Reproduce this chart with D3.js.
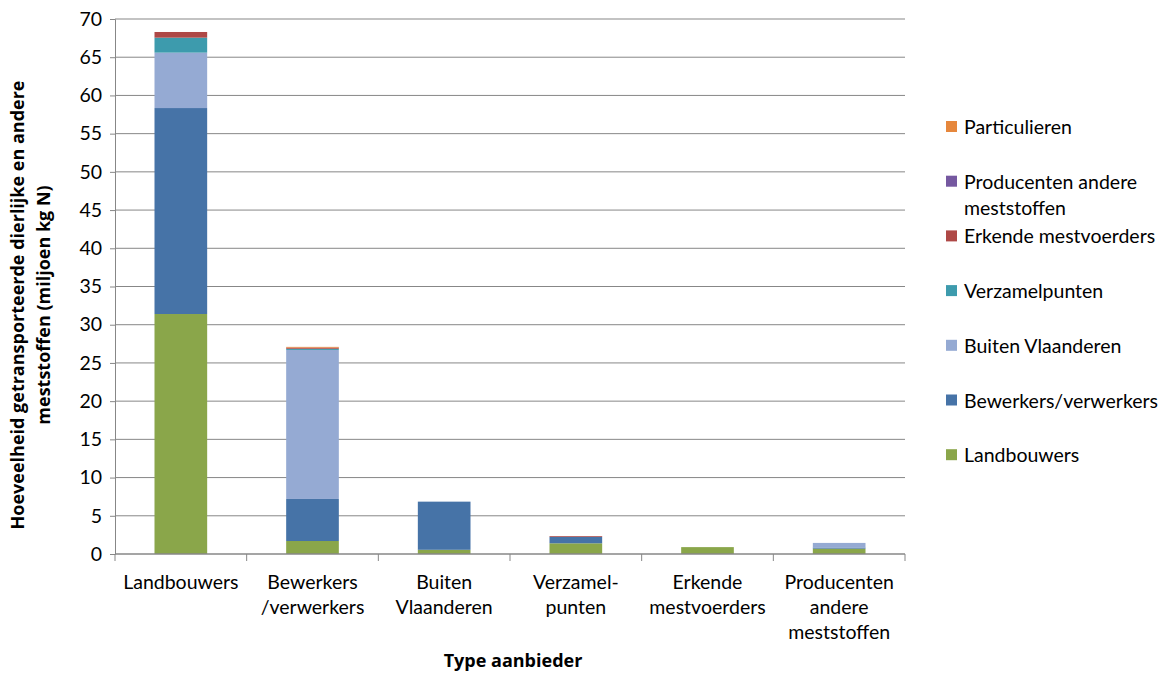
<!DOCTYPE html>
<html><head><meta charset="utf-8">
<script src="https://cdn.jsdelivr.net/npm/d3@7"></script>
<style>body{margin:0;background:#fff}text{font-family:Lato,"Open Sans",sans-serif;fill:#000}</style>
</head><body><svg id="c" width="1168" height="673"></svg>
<script>
const categories = [["Landbouwers"],["Bewerkers","/verwerkers"],["Buiten","Vlaanderen"],["Verzamel-","punten"],["Erkende","mestvoerders"],["Producenten","andere","meststoffen"]];
const seriesNames = ["Landbouwers","Bewerkers/verwerkers","Buiten Vlaanderen","Verzamelpunten","Erkende mestvoerders","Producenten andere meststoffen","Particulieren"];
const seriesColors = ["#8aa64a","#4673a7","#95aad3","#3d9bad","#ae4846","#7558a0","#e6873c"];
const landbouwers = [31.4, 1.7, 0.55, 1.4, 0.9, 0.7];
const bewerkers   = [26.95, 5.5, 6.3, 0.85, 0, 0.15];
const buiten      = [7.25, 19.5, 0, 0, 0, 0.6];
const verzamel    = [1.96, 0.15, 0, 0, 0, 0];
const erkende     = [0.74, 0.15, 0, 0.1, 0, 0];
const producenten = [0, 0, 0, 0, 0, 0];
const particulieren = [0, 0.1, 0, 0, 0, 0];
const yTicks = [0,5,10,15,20,25,30,35,40,45,50,55,60,65,70];
const legendLines = [["Particulieren"],["Producenten andere","meststoffen"],["Erkende mestvoerders"],["Verzamelpunten"],["Buiten Vlaanderen"],["Bewerkers/verwerkers"],["Landbouwers"]];

const seriesVals = [landbouwers,bewerkers,buiten,verzamel,erkende,producenten,particulieren];
const svg = d3.select("#c");
const L=115,R=905,T=19,B=554;
const FS=19.5;
const x = d3.scaleBand().domain(d3.range(categories.length)).range([L,R]).paddingInner(0.6).paddingOuter(0.3);
const xOuter = d3.scaleBand().domain(d3.range(categories.length)).range([L,R]);
const y = d3.scaleLinear().domain([0,70]).range([B,T]);
const grid="#878787";
svg.append("g").selectAll("line").data(yTicks.filter(d=>d>0)).join("line")
 .attr("x1",L).attr("x2",R).attr("y1",d=>y(d)).attr("y2",d=>y(d)).attr("stroke",grid).attr("stroke-width",1);
const ya = svg.append("g").attr("transform",`translate(${L},0)`).call(d3.axisLeft(y).tickValues(yTicks).tickSize(5).tickPadding(8));
ya.select(".domain").attr("stroke",grid);
ya.selectAll(".tick line").attr("stroke",grid);
ya.selectAll("text").attr("font-size",FS).style("font-family","Lato,sans-serif");
const rows = categories.map((c,i)=>{const o={};seriesNames.forEach((s,j)=>o[s]=seriesVals[j][i]);return o;});
const stack = d3.stack().keys(seriesNames)(rows);
svg.append("g").selectAll("g").data(stack).join("g").attr("fill",(d,i)=>seriesColors[i])
 .selectAll("rect").data(d=>d).join("rect")
 .attr("x",(d,i)=>x(i)).attr("width",x.bandwidth())
 .attr("y",d=>y(d[1])).attr("height",d=>Math.max(0,y(d[0])-y(d[1])));
svg.append("line").attr("x1",L).attr("x2",R).attr("y1",B).attr("y2",B).attr("stroke",grid).attr("stroke-width",1.5);
svg.append("g").selectAll("line").data(d3.range(categories.length+1)).join("line")
 .attr("x1",i=>L+i*xOuter.step()).attr("x2",i=>L+i*xOuter.step()).attr("y1",B).attr("y2",B+7).attr("stroke",grid);
const xl = svg.append("g").selectAll("text").data(categories).join("text")
 .attr("text-anchor","middle").attr("font-size",FS)
 .attr("x",(d,i)=>x(i)+x.bandwidth()/2).attr("y",589);
xl.selectAll("tspan").data(d=>d).join("tspan").attr("x",function(){return this.parentNode.getAttribute("x");}).attr("dy",(d,i)=>i?25:0).text(d=>d);
svg.append("text").attr("x",513).attr("y",667).attr("text-anchor","middle").attr("font-size",18).attr("font-weight","bold").style("font-family","'Open Sans',sans-serif").text("Type aanbieder");
const yt = svg.append("text").attr("transform","translate(24,305) rotate(-90)").attr("text-anchor","middle").attr("font-size",18).attr("font-weight","bold").style("font-family","'Open Sans',sans-serif");
yt.append("tspan").attr("x",0).attr("dy",0).text("Hoeveelheid getransporteerde dierlijke en andere");
yt.append("tspan").attr("x",0).attr("dy",26).text("meststoffen (miljoen kg N)");
const lg = svg.append("g").selectAll("g").data(legendLines).join("g")
 .attr("transform",(d,i)=>`translate(946,${127+i*54.7})`);
lg.append("rect").attr("x",0).attr("y",-6).attr("width",11).attr("height",11).attr("fill",(d,i)=>seriesColors[6-i]);
lg.append("text").attr("x",18).attr("y",7).attr("font-size",FS).selectAll("tspan").data(d=>d).join("tspan")
 .attr("x",18).attr("dy",(d,i)=>i?26:0).text(d=>d);
</script></body></html>
